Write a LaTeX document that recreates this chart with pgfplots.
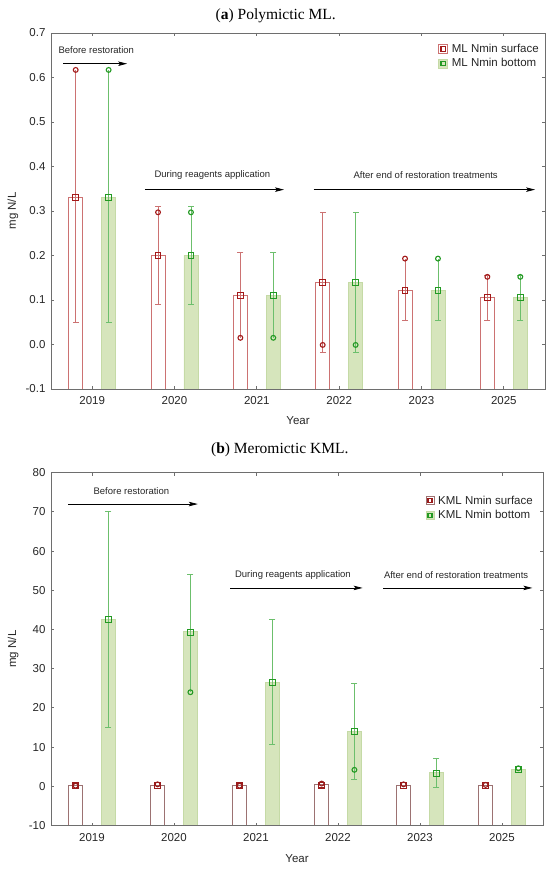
\documentclass[border=0pt]{standalone}
\usepackage{fontspec}
\setmainfont{Liberation Sans}
\newfontfamily\ttlfont{Liberation Serif}
\usepackage{pgfplots}
\pgfplotsset{compat=1.18}
\usetikzlibrary{arrows.meta}

\definecolor{frame}{HTML}{6E6E6E}
\definecolor{txt}{HTML}{262626}
\definecolor{redA}{HTML}{CC7272}
\definecolor{mredA}{HTML}{A31919}
\definecolor{redB}{HTML}{9C7272}
\definecolor{mredB}{HTML}{9A1B1B}
\definecolor{gfill}{HTML}{D6E5BC}
\definecolor{gline}{HTML}{C5DAA6}
\definecolor{gwhisk}{HTML}{6CBF6C}
\definecolor{gmark}{HTML}{229922}

\tikzset{
  ann/.style={font=\fontsize{9.5}{11}\selectfont, text=txt, anchor=center},
  arr/.style={draw=black, line width=0.8pt, -{Stealth[length=9pt,width=4.5pt,inset=2pt]}},
}

\pgfplotsset{
  every axis title shift=0pt,
  panel/.style={
    scale only axis, axis on top, anchor=south west,
    xmin=-0.5, xmax=5.5,
    xtick={0,1,2,3,4,5},
    xticklabels={2019,2020,2021,2022,2023,2025},
    tick align=inside, tick pos=both,
    major tick length=3pt,
    tick style={draw=frame, line width=0.8pt},
    axis line style={draw=frame, line width=0.9pt},
    tick label style={font=\fontsize{11.5}{13}\selectfont, text=txt},
    /pgf/number format/assume math mode=true,
    xticklabel style={yshift=-4pt},
    yticklabel style={xshift=-2pt},
    label style={font=\fontsize{11.5}{13}\selectfont, text=txt},
    xlabel={Year}, ylabel={mg N/L},
    title style={font=\ttlfont\fontsize{15.5}{17}\selectfont, text=black, anchor=center},
    legend style={draw=none, fill=none, inner sep=0pt, row sep=0.5pt,
      font=\fontsize{11.5}{13}\selectfont, text=txt, cells={anchor=west}},
  },
  sbar/.style={draw=#1, line width=0.8pt, fill=white, unbounded coords=jump, forget plot},
  gbar/.style={draw=gline, line width=0.8pt, fill=gfill, unbounded coords=jump, forget plot},
  whisk/.style={draw=#1, line width=0.8pt, unbounded coords=jump, forget plot, mark=none},
  caps/.style={only marks, mark=-, mark size=3pt, mark options={draw=#1, line width=0.8pt}, forget plot},
  circ/.style={only marks, mark=o, mark size=2.4pt, mark options={draw=#1, line width=1.1pt, fill=white}, forget plot},
  sq/.style={only marks, mark=square, mark size=2.9pt, mark options={draw=#1, line width=1.1pt}, forget plot},
}

\begin{document}
\begin{tikzpicture}
\useasboundingbox (0,0) rectangle (550pt,869pt);

% ---------------- (a) Polymictic ML ----------------
\begin{axis}[panel, at={(51pt,480pt)}, width=494pt, height=356pt,
  ymin=-0.1, ymax=0.7,
  ytick={-0.1,0,0.1,0.2,0.3,0.4,0.5,0.6,0.7},
  yticklabel style={/pgf/number format/.cd, fixed, fixed zerofill, precision=1},
  xlabel style={at={(axis description cs:0.5,-0.09)}, anchor=center},
  ylabel style={at={(axis description cs:-0.077,0.5)}, anchor=center},
  title={(\textbf{a}) Polymictic ML.},
  title style={at={(axis description cs:0.455,1.048)}},
  legend style={at={(axis description cs:1,1)}, anchor=north east, xshift=-4pt, yshift=-9pt},
]
\addlegendimage{legend image code/.code={
  \draw[draw=redA, line width=0.8pt, fill=white] (0pt,-4.5pt) rectangle (9pt,4.5pt);
  \draw[draw=mredA, line width=1.1pt] (2.3pt,-2.2pt) rectangle (6.7pt,2.2pt);
  \path (11pt,0pt);}}
\addlegendentry{ML Nmin surface}
\addlegendimage{legend image code/.code={
  \draw[draw=gline, line width=0.8pt, fill=gfill] (0pt,-4.5pt) rectangle (9pt,4.5pt);
  \draw[draw=gmark, line width=1.1pt] (2.3pt,-2.2pt) rectangle (6.7pt,2.2pt);
  \path (11pt,0pt);}}
\addlegendentry{ML Nmin bottom}

% surface bars
\addplot[sbar=redA] table[row sep=\\] {
x y\\
-0.285 -0.1\\ -0.285 0.33\\ -0.115 0.33\\ -0.115 -0.1\\ nan nan\\
0.715 -0.1\\ 0.715 0.2\\ 0.885 0.2\\ 0.885 -0.1\\ nan nan\\
1.715 -0.1\\ 1.715 0.11\\ 1.885 0.11\\ 1.885 -0.1\\ nan nan\\
2.715 -0.1\\ 2.715 0.14\\ 2.885 0.14\\ 2.885 -0.1\\ nan nan\\
3.715 -0.1\\ 3.715 0.122\\ 3.885 0.122\\ 3.885 -0.1\\ nan nan\\
4.715 -0.1\\ 4.715 0.105\\ 4.885 0.105\\ 4.885 -0.1\\
};
% bottom bars
\addplot[gbar] table[row sep=\\] {
x y\\
0.115 -0.1\\ 0.115 0.33\\ 0.285 0.33\\ 0.285 -0.1\\ nan nan\\
1.115 -0.1\\ 1.115 0.2\\ 1.285 0.2\\ 1.285 -0.1\\ nan nan\\
2.115 -0.1\\ 2.115 0.11\\ 2.285 0.11\\ 2.285 -0.1\\ nan nan\\
3.115 -0.1\\ 3.115 0.14\\ 3.285 0.14\\ 3.285 -0.1\\ nan nan\\
4.115 -0.1\\ 4.115 0.122\\ 4.285 0.122\\ 4.285 -0.1\\ nan nan\\
5.115 -0.1\\ 5.115 0.105\\ 5.285 0.105\\ 5.285 -0.1\\
};
% whiskers surface
\addplot[whisk=redA] table[row sep=\\] {
x y\\
-0.2 0.05\\ -0.2 0.617\\ nan nan\\
0.8 0.09\\ 0.8 0.31\\ nan nan\\
1.8 0.015\\ 1.8 0.207\\ nan nan\\
2.8 -0.018\\ 2.8 0.297\\ nan nan\\
3.8 0.054\\ 3.8 0.193\\ nan nan\\
4.8 0.055\\ 4.8 0.155\\
};
% whiskers bottom
\addplot[whisk=gwhisk] table[row sep=\\] {
x y\\
0.2 0.05\\ 0.2 0.617\\ nan nan\\
1.2 0.09\\ 1.2 0.31\\ nan nan\\
2.2 0.015\\ 2.2 0.207\\ nan nan\\
3.2 -0.018\\ 3.2 0.297\\ nan nan\\
4.2 0.054\\ 4.2 0.193\\ nan nan\\
5.2 0.055\\ 5.2 0.155\\
};
\addplot[caps=redA] coordinates {(-0.2,0.05) (0.8,0.09) (0.8,0.31) (1.8,0.207) (2.8,-0.018) (2.8,0.297) (3.8,0.054) (4.8,0.055) (4.8,0.155)};
\addplot[caps=gwhisk] coordinates {(0.2,0.05) (1.2,0.09) (1.2,0.31) (2.2,0.207) (3.2,-0.018) (3.2,0.297) (4.2,0.054) (5.2,0.055) (5.2,0.155)};
\addplot[circ=mredA] coordinates {(-0.2,0.617) (0.8,0.297) (1.8,0.015) (2.8,-0.001) (3.8,0.193) (4.8,0.152)};
\addplot[circ=gmark] coordinates {(0.2,0.617) (1.2,0.297) (2.2,0.015) (3.2,-0.001) (4.2,0.193) (5.2,0.152)};
\addplot[sq=mredA] coordinates {(-0.2,0.33) (0.8,0.2) (1.8,0.11) (2.8,0.14) (3.8,0.122) (4.8,0.105)};
\addplot[sq=gmark] coordinates {(0.2,0.33) (1.2,0.2) (2.2,0.11) (3.2,0.14) (4.2,0.122) (5.2,0.105)};

\node[ann] at (axis cs:0.05,0.662) {Before restoration};
\draw[arr] (axis cs:-0.35,0.631) -- (axis cs:0.425,0.631);
\node[ann] at (axis cs:1.46,0.38) {During reagents application};
\draw[arr] (axis cs:0.64,0.348) -- (axis cs:2.33,0.348);
\node[ann] at (axis cs:4.05,0.38) {After end of restoration treatments};
\draw[arr] (axis cs:2.69,0.348) -- (axis cs:5.38,0.348);
\end{axis}

% ---------------- (b) Meromictic KML ----------------
\begin{axis}[panel, at={(51pt,43.5pt)}, width=492pt, height=352.8pt,
  ymin=-10, ymax=80,
  ytick={-10,0,10,20,30,40,50,60,70,80},
  xlabel style={at={(axis description cs:0.5,-0.094)}, anchor=center},
  ylabel style={at={(axis description cs:-0.077,0.5)}, anchor=center},
  title={(\textbf{b}) Meromictic KML.},
  title style={at={(axis description cs:0.465,1.0645)}},
  legend style={at={(axis description cs:1,1)}, anchor=north east, xshift=-8pt, yshift=-21pt},
]
\addlegendimage{legend image code/.code={
  \draw[draw=redB, line width=0.8pt, fill=white] (0pt,-4pt) rectangle (8pt,4pt);
  \draw[draw=mredB, line width=1.1pt] (2pt,-2pt) rectangle (6pt,2pt);
  \path (10pt,0pt);}}
\addlegendentry{KML Nmin surface}
\addlegendimage{legend image code/.code={
  \draw[draw=gline, line width=0.8pt, fill=gfill] (0pt,-4pt) rectangle (8pt,4pt);
  \draw[draw=gmark, line width=1.1pt] (2pt,-2pt) rectangle (6pt,2pt);
  \path (10pt,0pt);}}
\addlegendentry{KML Nmin bottom}

\addplot[sbar=redB] table[row sep=\\] {
x y\\
-0.285 -10\\ -0.285 0.25\\ -0.115 0.25\\ -0.115 -10\\ nan nan\\
0.715 -10\\ 0.715 0.35\\ 0.885 0.35\\ 0.885 -10\\ nan nan\\
1.715 -10\\ 1.715 0.25\\ 1.885 0.25\\ 1.885 -10\\ nan nan\\
2.715 -10\\ 2.715 0.4\\ 2.885 0.4\\ 2.885 -10\\ nan nan\\
3.715 -10\\ 3.715 0.35\\ 3.885 0.35\\ 3.885 -10\\ nan nan\\
4.715 -10\\ 4.715 0.3\\ 4.885 0.3\\ 4.885 -10\\
};
\addplot[gbar] table[row sep=\\] {
x y\\
0.115 -10\\ 0.115 42.6\\ 0.285 42.6\\ 0.285 -10\\ nan nan\\
1.115 -10\\ 1.115 39.4\\ 1.285 39.4\\ 1.285 -10\\ nan nan\\
2.115 -10\\ 2.115 26.5\\ 2.285 26.5\\ 2.285 -10\\ nan nan\\
3.115 -10\\ 3.115 14.1\\ 3.285 14.1\\ 3.285 -10\\ nan nan\\
4.115 -10\\ 4.115 3.5\\ 4.285 3.5\\ 4.285 -10\\ nan nan\\
5.115 -10\\ 5.115 4.4\\ 5.285 4.4\\ 5.285 -10\\
};
\addplot[whisk=gwhisk] table[row sep=\\] {
x y\\
0.2 15.0\\ 0.2 70.2\\ nan nan\\
1.2 24.0\\ 1.2 54.1\\ nan nan\\
2.2 10.7\\ 2.2 42.5\\ nan nan\\
3.2 1.8\\ 3.2 26.2\\ nan nan\\
4.2 -0.4\\ 4.2 7.2\\
};
\addplot[caps=gwhisk] coordinates {(0.2,15.0) (0.2,70.2) (1.2,54.1) (2.2,10.7) (2.2,42.5) (3.2,1.8) (3.2,26.2) (4.2,-0.4) (4.2,7.2)};
\addplot[circ=mredB] coordinates {(-0.2,0.15) (0.8,0.5) (1.8,0.15) (2.8,0.7) (3.8,0.5) (4.8,0.35)};
\addplot[circ=gmark] coordinates {(1.2,24.0) (3.2,4.2) (5.2,4.6)};
\addplot[sq=mredB] coordinates {(-0.2,0.1) (0.8,0.25) (1.8,0.1) (2.8,0.3) (3.8,0.25) (4.8,0.2)};
\addplot[sq=gmark] coordinates {(0.2,42.5) (1.2,39.2) (2.2,26.4) (3.2,13.9) (4.2,3.3) (5.2,4.2)};

\node[ann] at (axis cs:0.48,75.2) {Before restoration};
\draw[arr] (axis cs:-0.29,72.0) -- (axis cs:1.29,72.0);
\node[ann] at (axis cs:2.45,53.8) {During reagents application};
\draw[arr] (axis cs:1.685,50.6) -- (axis cs:3.30,50.6);
\node[ann] at (axis cs:4.44,53.8) {After end of restoration treatments};
\draw[arr] (axis cs:3.55,50.6) -- (axis cs:5.37,50.6);
\end{axis}
\end{tikzpicture}
\end{document}
